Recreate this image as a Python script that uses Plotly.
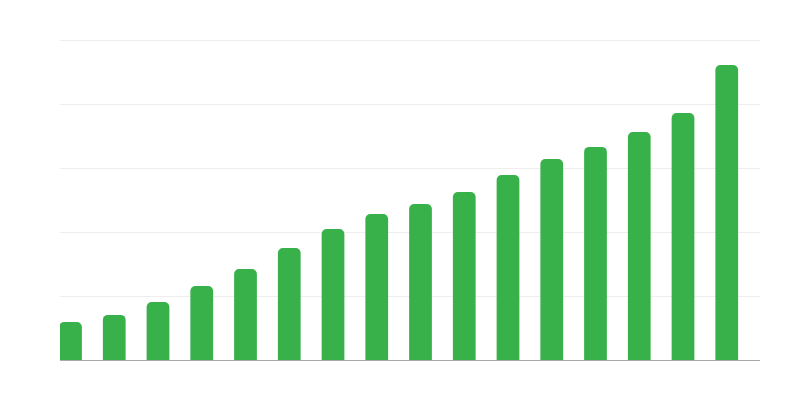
import plotly.graph_objects as go

# categories and values (y scale 0-100, grid every 20)
categories = list(range(16))
values = [11.9, 14.1, 18.1, 23.1, 28.4, 35.0, 40.9, 45.6,
          48.75, 52.5, 57.8, 62.8, 66.6, 71.25, 77.2, 92.2]

fig = go.Figure(go.Bar(x=categories, y=values, width=0.52,
                       marker=dict(color="#38b14b", line=dict(width=0))))

# the page puts the figure 8px in from the top-left corner, margins allow for it
fig.update_layout(
    width=800, height=400,
    margin=dict(l=52, r=48, t=24, b=48),
    plot_bgcolor="white", paper_bgcolor="white",
    barcornerradius=5,
    showlegend=False,
)
fig.update_xaxes(range=[-0.24, 15.76], showticklabels=False, showgrid=False,
                 zeroline=False, showline=False, ticks="")
fig.update_yaxes(range=[0, 102.5], tickvals=[20, 40, 60, 80, 100],
                 showticklabels=False,
                 gridcolor="#eeeeee", gridwidth=1, zeroline=True,
                 zerolinecolor="#aaaaaa", zerolinewidth=1, ticks="")

fig.write_html("out.html")
